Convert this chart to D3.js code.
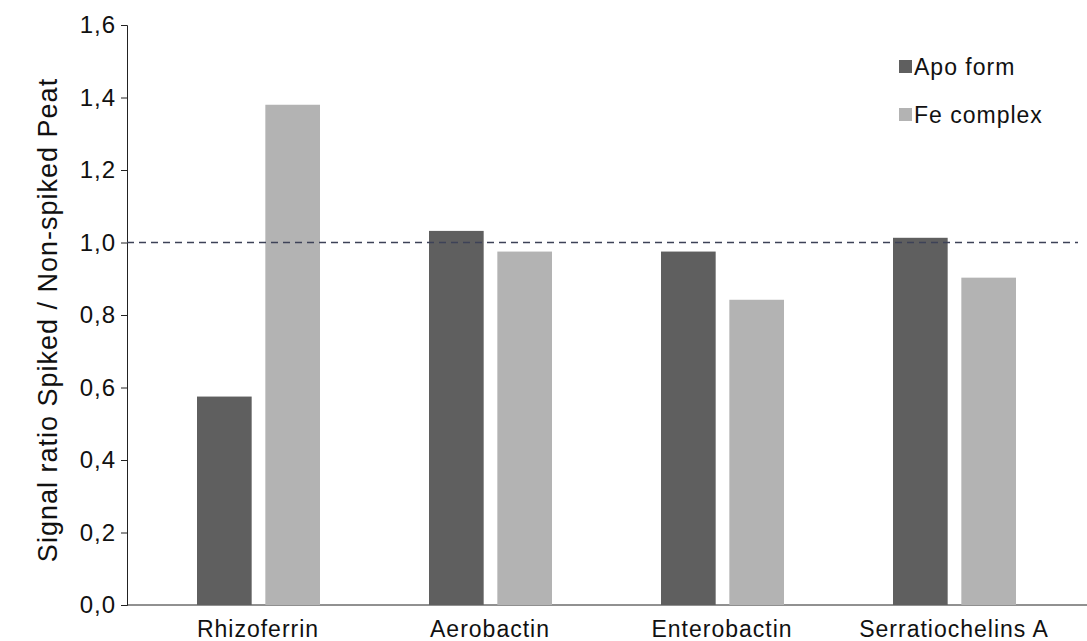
<!DOCTYPE html>
<html><head><meta charset="utf-8">
<script src="https://cdn.jsdelivr.net/npm/d3@7"></script>
<style>body{margin:0;background:#fff}text{font-family:"Liberation Sans",Arial,sans-serif;letter-spacing:1px}</style>
</head><body><div id="chart"></div>
<script>
let width = 1087, height = 641;

// data
let categories = ["Rhizoferrin", "Aerobactin", "Enterobactin", "Serratiochelins A"];
let seriesNames = ["Apo form", "Fe complex"];
let apoValues = [0.575, 1.032, 0.975, 1.013];
let feValues = [1.38, 0.975, 0.842, 0.903];
let yTicks = [0, 0.2, 0.4, 0.6, 0.8, 1.0, 1.2, 1.4, 1.6];
let colors = ["#5f5f5f", "#b3b3b3"];

let svg = d3.select("#chart").append("svg")
  .attr("width", width).attr("height", height);

let y = d3.scaleLinear().domain([0, 1.6]).range([605, 25]);
let x = d3.scaleBand().domain(categories).range([142, 1070]);
let xs = d3.scaleBand().domain(seriesNames).range([55, 178]).paddingInner(0.2);

// y axis
let yAxis = svg.append("g").attr("transform", "translate(127,0)")
  .call(d3.axisLeft(y).tickValues(yTicks).tickSize(6)
    .tickFormat(d => d.toFixed(1).replace(".", ",")));
yAxis.attr("font-size", null).attr("font-family", null);
yAxis.selectAll("text").style("font-size", "24px").attr("fill", "#111").attr("dx", -2);
yAxis.selectAll("line,path").attr("stroke", "#222");

svg.append("line").attr("x1", 127).attr("x2", 1087)
  .attr("y1", y(0)).attr("y2", y(0)).attr("stroke", "#222");

// bars
let rows = categories.map((c, i) => ({c, vals: [apoValues[i], feValues[i]]}));
let g = svg.selectAll(".grp").data(rows).enter().append("g")
  .attr("transform", d => `translate(${x(d.c)},0)`);
g.selectAll("rect").data(d => d.vals.map((v, j) => ({v, s: seriesNames[j], j})))
  .enter().append("rect")
  .attr("x", d => xs(d.s)).attr("width", xs.bandwidth())
  .attr("y", d => y(d.v)).attr("height", d => y(0) - y(d.v))
  .attr("fill", d => colors[d.j]);

// category labels
svg.selectAll(".cat").data(categories).enter().append("text")
  .attr("x", d => x(d) + x.bandwidth() / 2).attr("y", 637)
  .attr("text-anchor", "middle").style("font-size", "23px").attr("fill", "#111")
  .text(d => d);

// reference line
svg.append("line").attr("x1", 127).attr("x2", 1078)
  .attr("y1", y(1)).attr("y2", y(1))
  .attr("stroke", "#3d4257").attr("stroke-width", 1.6).attr("stroke-dasharray", "7,5");

// y title
svg.append("text").attr("transform", "translate(57,320) rotate(-90)")
  .attr("text-anchor", "middle").style("font-size", "27px").attr("fill", "#111")
  .text("Signal ratio Spiked / Non-spiked Peat");

// legend
let leg = svg.selectAll(".leg").data(seriesNames).enter().append("g")
  .attr("transform", (d, i) => `translate(899,${60 + i * 48})`);
leg.append("rect").attr("width", 13).attr("height", 13).attr("fill", (d, i) => colors[i]);
leg.append("text").attr("x", 15).attr("y", 15).style("font-size", "23px").attr("fill", "#111").text(d => d);
</script></body></html>
